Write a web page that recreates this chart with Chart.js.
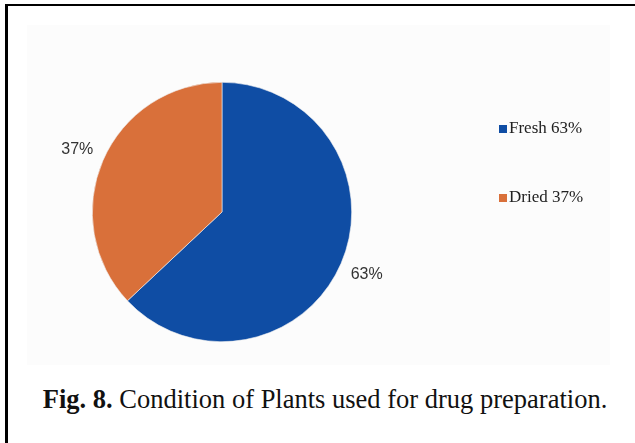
<!DOCTYPE html>
<html>
<head>
<meta charset="utf-8">
<script src="https://cdn.jsdelivr.net/npm/chart.js@4.4.1/dist/chart.umd.min.js"></script>
<style>
  html, body { margin: 0; padding: 0; background: #fff; }
  #frame { position: absolute; left: 5px; top: 4px; width: 640px; height: 450px;
           border-top: 2px solid #000; border-left: 3px solid #000; }
  #wrap { position: absolute; left: 27px; top: 25px; width: 583px; height: 340px; background: #fcfcfc; }
  #caption { position: absolute; left: 0; width: 650px; top: 384px; text-align: center;
             font-family: "Liberation Serif", "Times New Roman", serif; font-size: 26.5px; color: #111; }
</style>
</head>
<body>
<div id="frame"></div>
<div id="wrap"><canvas id="pie"></canvas></div>
<div id="caption"><b>Fig. 8.</b> Condition of Plants used for drug preparation.</div>
<script>
// chart data
const categories = ["Fresh", "Dried"];
const values = [63, 37];
const colors = ["#0f4da4", "#d9703a"];

// percent labels just outside each slice
const sliceLabels = {
    id: "sliceLabels",
    afterDatasetsDraw(chart) {
        const ctx = chart.ctx;
        const meta = chart.getDatasetMeta(0);
        ctx.save();
        ctx.font = '16px "Liberation Sans", Arial, sans-serif';
        ctx.fillStyle = "#333";
        ctx.textAlign = "center";
        ctx.textBaseline = "middle";
        meta.data.forEach((arc, i) => {
            const p = arc.getProps(["x", "y", "startAngle", "endAngle", "outerRadius"], true);
            const mid = (p.startAngle + p.endAngle) / 2;
            const r = p.outerRadius + 28;
            ctx.fillText(values[i] + "%", p.x + Math.cos(mid) * r, p.y + Math.sin(mid) * r);
        });
        ctx.restore();
    }
};

// legend on the right, Excel style
const sideLegend = {
    id: "sideLegend",
    afterDraw(chart) {
        const ctx = chart.ctx;
        const ds = chart.data.datasets[0];
        ctx.save();
        ctx.font = '17px "Liberation Serif", "Times New Roman", serif';
        ctx.textBaseline = "middle";
        chart.data.labels.forEach((label, i) => {
            const y = 104 + i * 69;
            ctx.fillStyle = ds.backgroundColor[i];
            ctx.fillRect(472, y - 4, 8, 8);
            ctx.fillStyle = "#222";
            ctx.fillText(label + " " + ds.data[i] + "%", 482, y);
        });
        ctx.restore();
    }
};

new Chart(document.getElementById("pie"), {
    type: "pie",
    data: {
        labels: categories,
        datasets: [{
            data: values,
            backgroundColor: colors,
            borderColor: "#f0f0f0",
            borderWidth: 0.6
        }]
    },
    options: {
        responsive: true,
        maintainAspectRatio: false,
        animation: false,
        layout: { padding: { left: 65, right: 258, top: 57, bottom: 23 } },
        plugins: {
            legend: { display: false },
            tooltip: { enabled: false }
        }
    },
    plugins: [sliceLabels, sideLegend]
});
</script>
</body>
</html>
